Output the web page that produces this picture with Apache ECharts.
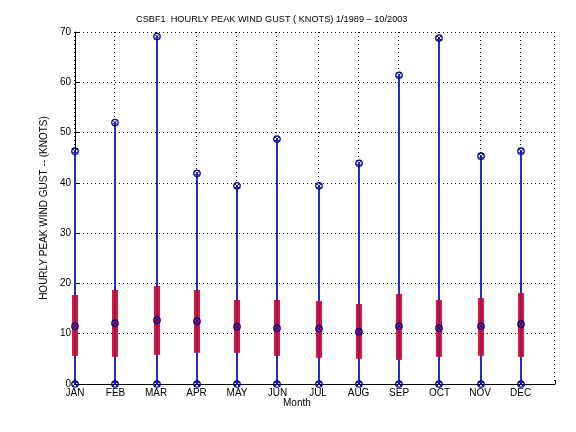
<!DOCTYPE html>
<html><head><meta charset="utf-8">
<script src="https://cdn.jsdelivr.net/npm/echarts@6/dist/echarts.min.js"></script>
<style>html,body{margin:0;padding:0;background:#fff}#c{width:576px;height:432px}</style>
</head><body><div id="c"></div>
<script>
const months = ['JAN','FEB','MAR','APR','MAY','JUN','JUL','AUG','SEP','OCT','NOV','DEC'];
const minVals = [0,0,0,0,0,0,0,0,0,0,0,0];
const q1Vals = [5.6,5.4,5.8,6.2,6.2,5.6,5.2,5.0,4.8,5.4,5.6,5.4];
const medianVals = [11.5,12.1,12.7,12.5,11.4,11.1,11.0,10.4,11.5,11.1,11.5,11.9];
const q3Vals = [17.7,18.7,19.5,18.7,16.7,16.7,16.5,15.9,17.9,16.7,17.1,18.1];
const maxVals = [46.3,52.0,69.1,41.9,39.4,48.7,39.4,43.9,61.4,68.8,45.3,46.3];
const yTicks = [0,10,20,30,40,50,60,70];
const X_MIN = 1, X_MAX = 12.85, Y_MAX = 70;

const data = months.map((m,i)=>[i+1,minVals[i],q1Vals[i],medianVals[i],q3Vals[i],maxVals[i]]);
const FONT = "'Liberation Sans', Arial, Helvetica, sans-serif";
const NAVY = '#000090';
const BLUE = '#2a2ac4';

function marker(cx,cy){
  return {type:'group',children:[
    {type:'circle',z2:10,shape:{cx:cx,cy:cy,r:3.2},style:{fill:'none',stroke:NAVY,lineWidth:1.3}},
    {type:'line',z2:10,shape:{x1:cx-2,y1:cy-2,x2:cx+2,y2:cy+2},style:{stroke:NAVY,lineWidth:1}},
    {type:'line',z2:10,shape:{x1:cx-2,y1:cy+2,x2:cx+2,y2:cy-2},style:{stroke:NAVY,lineWidth:1}}
  ]};
}
function dots(x,y1,y2){
  const out=[];
  for(let y=Math.ceil(y1); y<y2; y+=4){
    out.push({type:'rect',z2:0,shape:{x:x,y:y,width:1,height:1},style:{fill:'#000'}});
  }
  return out;
}

const chart = echarts.init(document.getElementById('c'));
chart.setOption({
  animation:false,
  backgroundColor:'#fff',
  title:[
    {text:'CSBF1  HOURLY PEAK WIND GUST ( KNOTS) 1/1989 \u2013 10/2003',left:136,top:15,padding:0,
     textStyle:{fontFamily:FONT,fontSize:9.2,fontWeight:'normal',color:'#000'}},
    {text:'Month',left:283,top:398,padding:0,textStyle:{fontFamily:FONT,fontSize:10,fontWeight:'normal',color:'#000'}}
  ],
  grid:{left:75,right:21,top:32,bottom:48},
  xAxis:{type:'value',min:X_MIN,max:X_MAX,interval:1,
    axisLine:{show:true,onZero:false,lineStyle:{color:'#000',width:1}},
    axisTick:{show:true,inside:true,length:4,lineStyle:{color:'#000'}},
    axisLabel:{margin:4,color:'#000',fontFamily:FONT,fontSize:10,
      formatter:v=>Number.isInteger(v)&&v>=1&&v<=12?months[v-1]:''},
    splitLine:{show:false}
  },
  yAxis:{type:'value',min:0,max:Y_MAX,interval:10,
    name:'HOURLY PEAK WIND GUST -- (KNOTS)',nameLocation:'middle',nameGap:17,
    nameTextStyle:{fontFamily:FONT,fontSize:10,color:'#000'},
    axisLine:{show:true,lineStyle:{color:'#000',width:1}},
    axisTick:{show:true,inside:true,length:4,lineStyle:{color:'#000'}},
    axisLabel:{margin:4,color:'#000',fontFamily:FONT,fontSize:10,
      formatter:v=>yTicks.includes(v)?String(v):''},
    splitLine:{show:true,lineStyle:{color:'#000',type:[1,3],width:1}}
  },
  series:[{
    type:'custom',
    z:20,
    data:data,
    clip:false,
    renderItem:function(params,api){
      const x=api.value(0);
      const pMin=api.coord([x,api.value(1)]);
      const pQ1=api.coord([x,api.value(2)]);
      const pMed=api.coord([x,api.value(3)]);
      const pQ3=api.coord([x,api.value(4)]);
      const pMax=api.coord([x,api.value(5)]);
      const pTop=api.coord([x,Y_MAX]);
      let xe=Math.floor(pMin[0]);
      xe = xe - (xe % 2);
      const cx=xe+1;
      const children=dots(xe,pTop[1],pMax[1]-3).concat([
        {type:'rect',z2:1,shape:{x:xe,y:pMax[1],width:2,height:pMin[1]-pMax[1]},style:{fill:BLUE}},
        {type:'rect',z2:2,shape:{x:xe-2,y:pQ3[1],width:6,height:pQ1[1]-pQ3[1]},style:{fill:'#e3152d'}},
        {type:'rect',z2:3,shape:{x:xe,y:pQ3[1],width:2,height:pQ1[1]-pQ3[1]},style:{fill:'#8a1a70'}},
        marker(cx,pMax[1]),marker(cx,pMed[1]),marker(cx,pMin[1])
      ]);
      if(params.dataIndex===data.length-1){
        const r0=api.coord([X_MAX,0]), r1=api.coord([X_MAX,Y_MAX]);
        const xr=Math.floor(r0[0]-0.01);
        dots(xr,r1[1],r0[1]).forEach(d=>children.push(d));
      }
      return {type:'group',children:children};
    }
  }]
});
</script></body></html>
